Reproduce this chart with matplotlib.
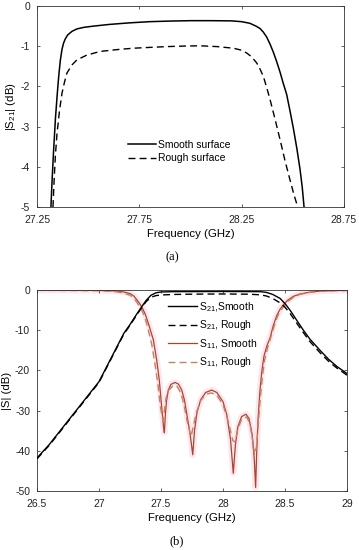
import numpy as np
import matplotlib
matplotlib.use("Agg")
import matplotlib.pyplot as plt

plt.rcParams["font.family"] = ["Liberation Sans", "DejaVu Sans"]
plt.rcParams["mathtext.fontset"] = "custom"
plt.rcParams["mathtext.rm"] = "Liberation Sans"
plt.rcParams["mathtext.it"] = "Liberation Sans:italic"
plt.rcParams["axes.unicode_minus"] = False
plt.rcParams["font.size"] = 7.5

# (a) |S21| passband detail
f_a_smooth = [27.318, 27.324, 27.331, 27.340, 27.348, 27.356, 27.364, 27.372, 27.380, 27.388,
              27.400, 27.421, 27.445, 27.480, 27.527, 27.600, 27.700, 27.800, 27.900, 28.000,
              28.100, 28.200, 28.250, 28.290, 28.320, 28.340, 28.356, 28.372, 28.389, 28.405,
              28.421, 28.438, 28.452, 28.470, 28.486, 28.503, 28.520, 28.535, 28.546, 28.555]
s21_a_smooth = [-5.0, -4.3, -3.6, -2.8, -2.25, -1.75, -1.35, -1.08, -0.92, -0.82,
                -0.72, -0.63, -0.57, -0.53, -0.50, -0.46, -0.42, -0.39, -0.375, -0.365,
                -0.365, -0.37, -0.39, -0.43, -0.50, -0.56, -0.65, -0.77, -0.95, -1.15,
                -1.38, -1.65, -1.90, -2.2, -2.6, -3.05, -3.55, -4.05, -4.5, -5.0]
f_a_rough = [27.328, 27.333, 27.340, 27.348, 27.360, 27.372, 27.384, 27.396, 27.420, 27.445,
             27.494, 27.559, 27.650, 27.722, 27.800, 27.885, 27.980, 28.047, 28.130, 28.210,
             28.250, 28.275, 28.300, 28.324, 28.340, 28.356, 28.372, 28.389, 28.410, 28.438,
             28.462, 28.486, 28.505, 28.524]
s21_a_rough = [-5.0, -4.4, -3.7, -3.16, -2.6, -2.17, -1.9, -1.67, -1.47, -1.34,
               -1.22, -1.13, -1.08, -1.05, -1.03, -1.01, -0.995, -0.99, -1.01, -1.05,
               -1.10, -1.17, -1.27, -1.42, -1.57, -1.75, -2.02, -2.33, -2.75, -3.33,
               -3.85, -4.32, -4.68, -5.0]

# (b) full response
f_b21 = [26.5, 26.6, 26.7, 26.8, 26.9, 27.0, 27.1, 27.2, 27.25, 27.3, 27.344, 27.38, 27.42,
         27.46, 27.5, 27.6, 27.8, 28.0, 28.2, 28.3, 28.35, 28.4, 28.46, 28.5, 28.54, 28.6,
         28.648, 28.7, 28.782, 28.85, 28.917, 29.0]
s21_b_smooth = [-41.8, -38.4, -34.5, -30.6, -26.7, -22.8, -16.8, -10.8, -8.6, -6.2, -4.2, -2.6, -1.3,
                -0.7, -0.5, -0.42, -0.4, -0.38, -0.4, -0.42, -0.6, -1.1, -2.1, -3.4, -5.0, -7.8,
                -10.0, -12.2, -15.0, -17.2, -19.0, -20.8]
s21_b_rough = [-42.0, -38.6, -34.7, -30.8, -26.9, -23.0, -17.0, -11.0, -8.8, -6.4, -4.4, -2.9, -1.8,
               -1.4, -1.25, -1.12, -1.03, -1.0, -1.05, -1.2, -1.5, -2.1, -3.2, -4.3, -5.8, -8.5,
               -10.6, -12.8, -15.6, -17.7, -19.4, -21.2]

f_b11_smooth = [26.5, 26.8, 27.0, 27.1, 27.15, 27.2, 27.25, 27.28, 27.304, 27.33, 27.344, 27.37,
                27.398, 27.438, 27.465, 27.486, 27.505, 27.52, 27.527, 27.535, 27.545, 27.559,
                27.58, 27.613, 27.64, 27.667, 27.69, 27.707, 27.734, 27.756, 27.77, 27.79, 27.82,
                27.86, 27.909, 27.95, 28.0, 28.03, 28.06, 28.083, 28.1, 28.12, 28.15, 28.185,
                28.21, 28.235, 28.252, 28.263, 28.272, 28.283, 28.298, 28.312, 28.33, 28.355,
                28.379, 28.405, 28.433, 28.46, 28.487, 28.52, 28.567, 28.62, 28.7, 28.78, 28.9, 29.0]
s11_b_smooth = [-0.05, -0.08, -0.12, -0.2, -0.3, -0.5, -0.9, -1.5, -2.4, -3.5, -4.2, -5.8,
                -8.3, -12.4, -17.4, -22.4, -29.0, -34.0, -35.5, -31.0, -27.5, -24.9,
                -23.5, -23.0, -23.4, -24.9, -27.5, -30.7, -35.7, -41.0, -35.0, -30.5, -27.3,
                -25.5, -24.9, -25.5, -27.8, -31.0, -37.0, -45.6, -38.5, -34.0, -31.5, -30.9,
                -32.0, -36.0, -42.0, -49.1, -40.0, -32.0, -25.0, -20.5, -16.5, -13.8,
                -12.0, -8.9, -6.4, -4.8, -3.7, -2.6, -1.6, -1.0, -0.55, -0.3, -0.15, -0.1]
f_b11_rough = [26.5, 26.8, 27.0, 27.1, 27.15, 27.2, 27.25, 27.28, 27.304, 27.33, 27.344, 27.37,
               27.39, 27.425, 27.452, 27.475, 27.495, 27.515, 27.525, 27.54, 27.56, 27.6, 27.63,
               27.66, 27.685, 27.71, 27.742, 27.76, 27.785, 27.82, 27.86, 27.905, 27.95, 28.0,
               28.04, 28.08, 28.097, 28.12, 28.15, 28.19, 28.215, 28.24, 28.255, 28.27, 28.285,
               28.3, 28.318, 28.335, 28.36, 28.385, 28.41, 28.44, 28.47, 28.495, 28.53, 28.57,
               28.62, 28.7, 28.78, 28.9, 29.0]
s11_b_rough = [-0.1, -0.15, -0.2, -0.35, -0.5, -0.8, -1.3, -2.0, -3.0, -4.3, -5.0, -6.8,
               -9.0, -13.5, -18.5, -23.5, -29.0, -32.5, -30.5, -27.0, -25.0, -23.7, -24.0,
               -25.6, -28.5, -32.5, -36.5, -34.0, -30.5, -27.5, -26.0, -25.6, -26.2, -28.5,
               -32.5, -37.5, -37.8, -34.5, -32.2, -31.6, -33.0, -37.5, -41.0, -39.0, -33.0,
               -27.0, -21.5, -17.5, -14.3, -11.8, -9.2, -6.5, -4.9, -3.8, -2.7, -1.8,
               -1.1, -0.6, -0.35, -0.2, -0.15]

red_smooth = "#a8462b"
red_rough = "#c4825e"
halo = "#fde6f0"
edge = "#333333"

fig = plt.figure(figsize=(3.59, 5.5), dpi=100)


def style_axes(ax):
    for s in ax.spines.values():
        s.set_color(edge)
        s.set_linewidth(0.6)
    ax.tick_params(direction="in", top=True, right=True, length=2.5, width=0.5,
                   colors="#222222", labelsize=7.5)
    ax.tick_params(axis="x", pad=5.5)
    ax.tick_params(axis="y", pad=5)


# ---- (a) ----
ax1 = fig.add_axes([0.1031, 0.6236, 0.855, 0.3655])
ax1.plot(f_a_smooth, s21_a_smooth, color="black", lw=1.1, label="Smooth surface")
ax1.plot(f_a_rough, s21_a_rough, color="black", lw=1.0, ls=(0, (5, 3)), label="Rough surface")
ax1.set_xlim(27.25, 28.75)
ax1.set_ylim(-5, 0)
ax1.set_xticks([27.25, 27.75, 28.25, 28.75])
ax1.set_xticklabels(["27.25", "27.75", "28.25", "28.75"])
ax1.set_yticks([-5, -4, -3, -2, -1, 0])
ax1.set_xlabel("Frequency (GHz)", fontsize=8.2, labelpad=3)
ax1.set_ylabel("|S$_{21}$| (dB)", fontsize=8.2, labelpad=2)
style_axes(ax1)
ax1.legend(loc="upper left", bbox_to_anchor=(0.296, 0.335), frameon=False, fontsize=7.5,
           handlelength=2.7, handletextpad=0.2, labelspacing=0.35, borderpad=0, borderaxespad=0)
fig.text(0.481, 0.533, "(a)", ha="center", va="center", fontsize=9, family="Liberation Serif")

# ---- (b) ----
ax2 = fig.add_axes([0.1031, 0.1073, 0.8635, 0.3655])
ax2.plot(f_b11_smooth, s11_b_smooth, color=halo, lw=4.5, solid_capstyle="round", zorder=1)
ax2.plot(f_b21, s21_b_smooth, color="black", lw=1.0, zorder=3, label="S$_{21}$,Smooth")
ax2.plot(f_b21, s21_b_rough, color="black", lw=1.0, ls=(0, (5, 3)), zorder=3, label="S$_{21}$, Rough")
ax2.plot(f_b11_smooth, s11_b_smooth, color=red_smooth, lw=0.9, zorder=2, label="S$_{11}$, Smooth")
ax2.plot(f_b11_rough, s11_b_rough, color=red_rough, lw=1.0, ls=(0, (5, 3)), zorder=2, label="S$_{11}$, Rough")
ax2.set_xlim(26.5, 29)
ax2.set_ylim(-50, 0)
ax2.set_xticks([26.5, 27, 27.5, 28, 28.5, 29])
ax2.set_xticklabels(["26.5", "27", "27.5", "28", "28.5", "29"])
ax2.set_yticks([-50, -40, -30, -20, -10, 0])
ax2.set_xlabel("Frequency (GHz)", fontsize=8.2, labelpad=3)
ax2.set_ylabel("|S| (dB)", fontsize=8.2, labelpad=2)
style_axes(ax2)
ax2.legend(loc="upper left", bbox_to_anchor=(0.4226, 0.95), frameon=False, fontsize=7.5,
           handlelength=2.8, handletextpad=0.2, labelspacing=0.45, borderpad=0, borderaxespad=0)
fig.text(0.493, 0.0152, "(b)", ha="center", va="center", fontsize=9, family="Liberation Serif")

fig.savefig("out.png", dpi=100)
